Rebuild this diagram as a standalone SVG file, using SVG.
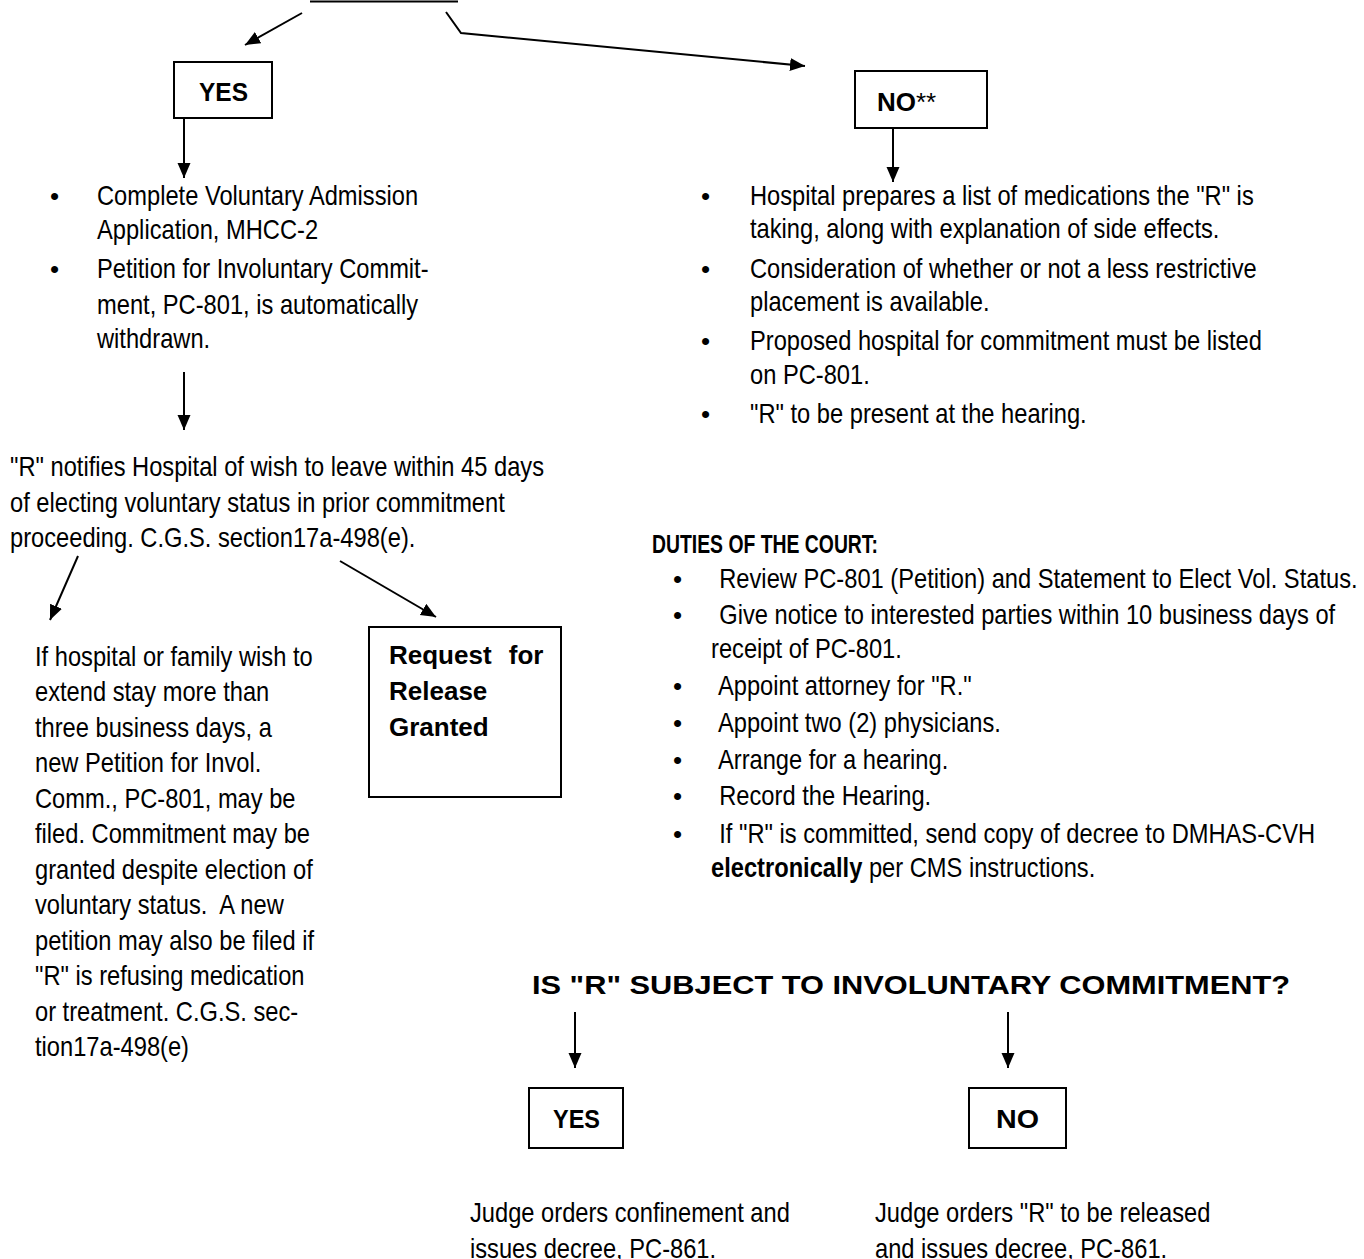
<svg xmlns="http://www.w3.org/2000/svg" width="1364" height="1259" viewBox="0 0 1364 1259">
<style>
.t{font-family:"Liberation Sans",Arial,sans-serif;font-size:28px;fill:#000}
.h{font-family:"Liberation Sans",Arial,sans-serif;font-size:26px;font-weight:bold;fill:#000}
.bu{font-family:"Liberation Sans",Arial,sans-serif;font-size:26px;fill:#000}
.bx{fill:none;stroke:#000;stroke-width:2}
.c{fill:none;stroke:#000;stroke-width:2}
</style>
<defs>
<marker id="ah" markerUnits="userSpaceOnUse" markerWidth="16" markerHeight="14" refX="15" refY="6.5" orient="auto"><path d="M0,0 L15,6.5 L0,13 z" fill="#000"/></marker>
</defs>
<rect width="1364" height="1259" fill="#fff"/>
<line x1="310" y1="1.5" x2="458" y2="1.5" stroke="#000" stroke-width="2"/>

<g id="connectors">
<line class="c" x1="302" y1="13" x2="245" y2="45" marker-end="url(#ah)"/>
<polyline class="c" points="446,12 461,33 805,66" marker-end="url(#ah)"/>
<line class="c" x1="184" y1="118" x2="184" y2="178" marker-end="url(#ah)"/>
<line class="c" x1="893" y1="128" x2="893" y2="182" marker-end="url(#ah)"/>
<line class="c" x1="184" y1="372" x2="184" y2="430" marker-end="url(#ah)"/>
<line class="c" x1="78" y1="556" x2="50" y2="620" marker-end="url(#ah)"/>
<line class="c" x1="340" y1="561" x2="436" y2="617" marker-end="url(#ah)"/>
<line class="c" x1="575" y1="1012" x2="575" y2="1068" marker-end="url(#ah)"/>
<line class="c" x1="1008" y1="1012" x2="1008" y2="1068" marker-end="url(#ah)"/>
</g>

<g id="yes-top">
<rect class="bx" x="174" y="62" width="98" height="56"/>
<text class="h" x="199" y="101" font-size="29" textLength="49" lengthAdjust="spacingAndGlyphs">YES</text>
</g>

<g id="no-top">
<rect class="bx" x="855" y="71" width="132" height="57"/>
<text class="h" x="877" y="111" font-size="29">NO<tspan font-weight="normal" font-size="26">**</tspan></text>
</g>

<g id="yes-actions">
<text class="bu" x="50" y="205">•</text>
<text class="bu" x="50" y="278">•</text>
<g transform="translate(97,0) scale(0.846,1) translate(-97,0)">
<text class="t" x="97" y="205">Complete Voluntary Admission</text>
<text class="t" x="97" y="239">Application, MHCC-2</text>
<text class="t" x="97" y="278">Petition for Involuntary Commit-</text>
<text class="t" x="97" y="314">ment, PC-801, is automatically</text>
<text class="t" x="97" y="348">withdrawn.</text>
</g>
</g>

<g id="notifies" transform="translate(10,0) scale(0.846,1) translate(-10,0)">
<text class="t" x="10" y="476">"R" notifies Hospital of wish to leave within 45 days</text>
<text class="t" x="10" y="512">of electing voluntary status in prior commitment</text>
<text class="t" x="10" y="547">proceeding. C.G.S. section17a-498(e).</text>
</g>

<g id="extend" transform="translate(35,0) scale(0.846,1) translate(-35,0)">
<text class="t" x="35" y="666">If hospital or family wish to</text>
<text class="t" x="35" y="701">extend stay more than</text>
<text class="t" x="35" y="737">three business days, a</text>
<text class="t" x="35" y="772">new Petition for Invol.</text>
<text class="t" x="35" y="808">Comm., PC-801, may be</text>
<text class="t" x="35" y="843">filed. Commitment may be</text>
<text class="t" x="35" y="879">granted despite election of</text>
<text class="t" x="35" y="914" xml:space="preserve">voluntary status.  A new</text>
<text class="t" x="35" y="950">petition may also be filed if</text>
<text class="t" x="35" y="985">"R" is refusing medication</text>
<text class="t" x="35" y="1021">or treatment. C.G.S. sec-</text>
<text class="t" x="35" y="1056">tion17a-498(e)</text>
</g>

<g id="release-granted">
<rect class="bx" x="369" y="627" width="192" height="170"/>
<text class="h" x="389" y="664" word-spacing="10">Request for</text>
<text class="h" x="389" y="700">Release</text>
<text class="h" x="389" y="736">Granted</text>
</g>

<g id="no-actions">
<text class="bu" x="701" y="205">•</text>
<text class="bu" x="701" y="278">•</text>
<text class="bu" x="701" y="350">•</text>
<text class="bu" x="701" y="423">•</text>
<g transform="translate(750,0) scale(0.846,1) translate(-750,0)">
<text class="t" x="750" y="205">Hospital prepares a list of medications the "R" is</text>
<text class="t" x="750" y="238">taking, along with explanation of side effects.</text>
<text class="t" x="750" y="278">Consideration of whether or not a less restrictive</text>
<text class="t" x="750" y="311">placement is available.</text>
<text class="t" x="750" y="350">Proposed hospital for commitment must be listed</text>
<text class="t" x="750" y="384">on PC-801.</text>
<text class="t" x="750" y="423">"R" to be present at the hearing.</text>
</g>
</g>

<g id="court-duties">
<text class="h" x="652" y="553" textLength="226" lengthAdjust="spacingAndGlyphs">DUTIES OF THE COURT:</text>
<text class="bu" x="673" y="588">•</text>
<text class="bu" x="673" y="624">•</text>
<text class="bu" x="673" y="695">•</text>
<text class="bu" x="673" y="732">•</text>
<text class="bu" x="673" y="769">•</text>
<text class="bu" x="673" y="805">•</text>
<text class="bu" x="673" y="843">•</text>
<g transform="translate(711,0) scale(0.846,1) translate(-711,0)">
<text class="t" x="713" y="588" xml:space="preserve"> Review PC-801 (Petition) and Statement to Elect Vol. Status.</text>
<text class="t" x="713" y="624" xml:space="preserve"> Give notice to interested parties within 10 business days of</text>
<text class="t" x="711" y="658">receipt of PC-801.</text>
<text class="t" x="713" y="695" xml:space="preserve"> Appoint attorney for "R."</text>
<text class="t" x="713" y="732" xml:space="preserve"> Appoint two (2) physicians.</text>
<text class="t" x="713" y="769" xml:space="preserve"> Arrange for a hearing.</text>
<text class="t" x="713" y="805" xml:space="preserve"> Record the Hearing.</text>
<text class="t" x="713" y="843" xml:space="preserve"> If "R" is committed, send copy of decree to DMHAS-CVH</text>
<text class="t" x="711" y="877"><tspan font-weight="bold">electronically</tspan> per CMS instructions.</text>
</g>
</g>

<g id="question">
<text class="h" x="532" y="994" font-size="27" textLength="758" lengthAdjust="spacingAndGlyphs">IS "R" SUBJECT TO INVOLUNTARY COMMITMENT?</text>
</g>

<g id="yes-bottom">
<rect class="bx" x="529" y="1088" width="94" height="60"/>
<text class="h" x="553" y="1128" font-size="29" textLength="47" lengthAdjust="spacingAndGlyphs">YES</text>
</g>

<g id="no-bottom">
<rect class="bx" x="969" y="1088" width="97" height="60"/>
<text class="h" x="996" y="1128" font-size="29" textLength="43" lengthAdjust="spacingAndGlyphs">NO</text>
</g>

<g id="confine" transform="translate(470,0) scale(0.846,1) translate(-470,0)">
<text class="t" x="470" y="1222">Judge orders confinement and</text>
<text class="t" x="470" y="1258">issues decree, PC-861.</text>
</g>

<g id="release" transform="translate(875,0) scale(0.846,1) translate(-875,0)">
<text class="t" x="875" y="1222">Judge orders "R" to be released</text>
<text class="t" x="875" y="1258">and issues decree, PC-861.</text>
</g>
</svg>
